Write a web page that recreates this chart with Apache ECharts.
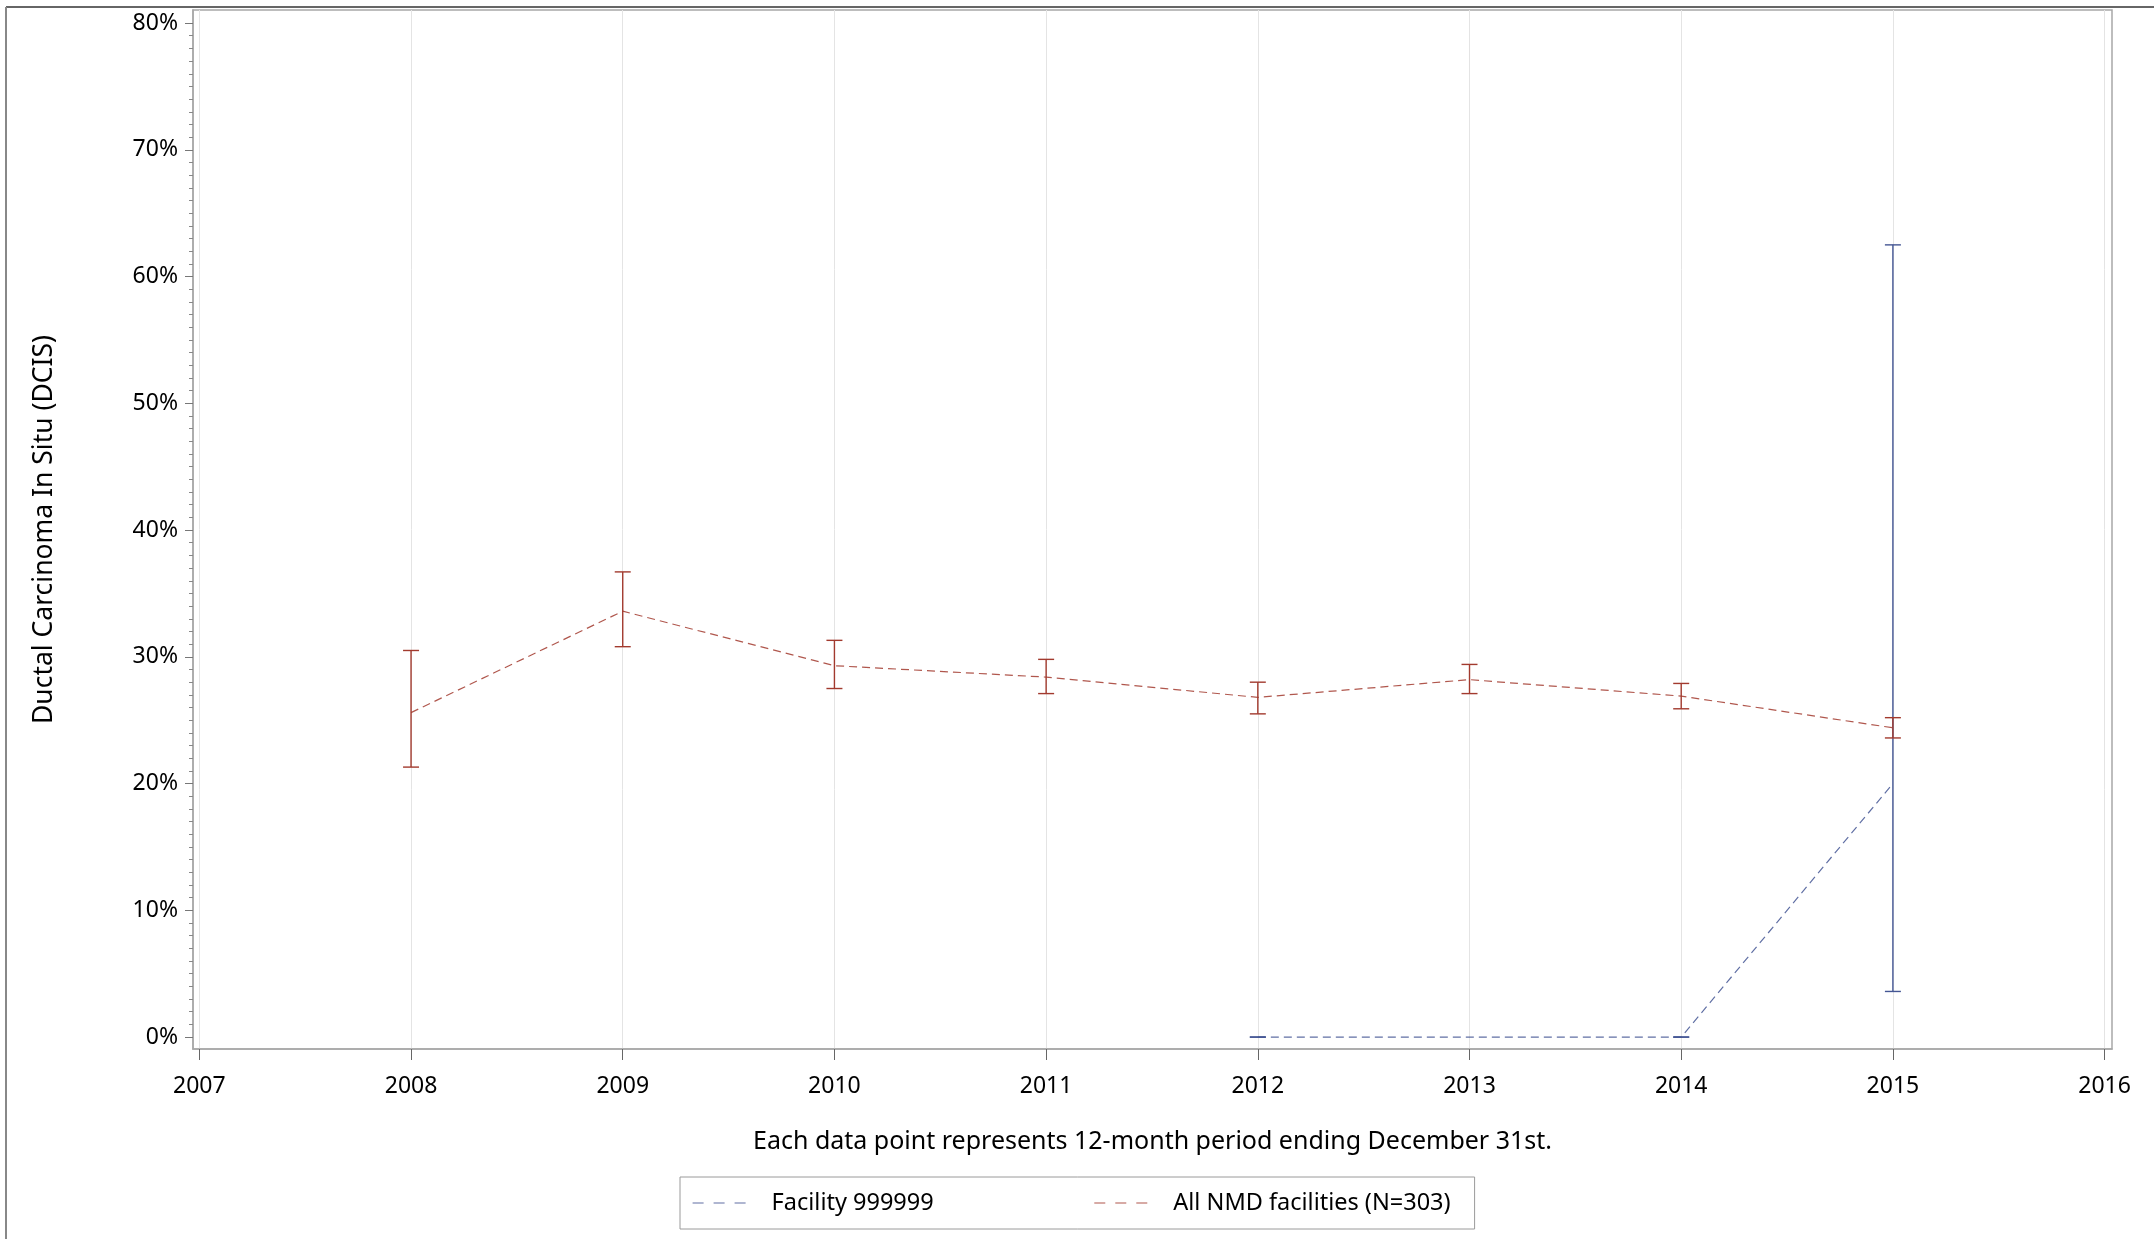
<!DOCTYPE html>
<html>
<head>
<meta charset="utf-8">
<script src="https://cdn.jsdelivr.net/npm/echarts@6/dist/echarts.min.js"></script>
<style>
html,body{margin:0;padding:0;background:#fff;}
#chart{width:2154px;height:1239px;}
</style>
</head>
<body>
<div id="chart"></div>
<script>
// ---- data ----
var xTickYears = [2007, 2008, 2009, 2010, 2011, 2012, 2013, 2014, 2015, 2016];
var yTickValues = [0, 10, 20, 30, 40, 50, 60, 70, 80];
var nmdYears = [2008, 2009, 2010, 2011, 2012, 2013, 2014, 2015];
var nmdRate  = [25.6, 33.6, 29.3, 28.4, 26.8, 28.2, 26.9, 24.4];
var nmdLower = [21.3, 30.8, 27.5, 27.1, 25.5, 27.1, 25.9, 23.6];
var nmdUpper = [30.5, 36.7, 31.3, 29.8, 28.0, 29.4, 27.9, 25.2];
var facYears = [2012, 2013, 2014, 2015];
var facRate  = [0, 0, 0, 20];
var facLower = [0, null, 0, 3.6];
var facUpper = [0, null, 0, 62.5];
var facName = 'Facility 999999';
var nmdName = 'All NMD facilities (N=303)';
var xTitle = 'Each data point represents 12-month period ending December 31st.';
var yTitle = 'Ductal Carcinoma In Situ (DCIS)';

var RED = '#A23A2E', BLUE = '#445694';
var FONT = 'Noto Sans';

var minorVals = [];
for (var v = 0; v <= 80; v++) { if (v % 10 !== 0) minorVals.push(v); }

function pairs(xs, ys) { return xs.map(function (x, i) { return [x, ys[i]]; }); }
function ciData(xs, lo, hi) {
  var out = [];
  xs.forEach(function (x, i) { if (lo[i] != null) out.push([x, lo[i], hi[i]]); });
  return out;
}
function errRender(color) {
  return function (params, api) {
    var x = api.value(0);
    var lo = api.coord([x, api.value(1)]);
    var hi = api.coord([x, api.value(2)]);
    var w = 8;
    var st = { stroke: color, lineWidth: 1.4 };
    return {
      type: 'group',
      children: [
        { type: 'line', shape: { x1: lo[0], y1: lo[1], x2: hi[0], y2: hi[1] }, style: st },
        { type: 'line', shape: { x1: lo[0] - w, y1: lo[1], x2: lo[0] + w, y2: lo[1] }, style: st },
        { type: 'line', shape: { x1: hi[0] - w, y1: hi[1], x2: hi[0] + w, y2: hi[1] }, style: st }
      ]
    };
  };
}

var chart = echarts.init(document.getElementById('chart'), null, { renderer: 'canvas' });
var option = {
  backgroundColor: '#fff',
  animation: false,
  textStyle: { fontFamily: FONT },
  grid: {
    left: 193, right: 42, top: 10, bottom: 190,
    show: true, borderColor: '#a8a8a8', borderWidth: 1.5, backgroundColor: 'transparent'
  },
  xAxis: {
    type: 'value', min: 2006.970, max: 2016.035,
    name: xTitle, nameLocation: 'middle', nameGap: 80,
    nameTextStyle: { fontSize: 25, color: '#000', fontFamily: FONT },
    axisLine: { show: true, onZero: false, lineStyle: { color: '#a8a8a8', width: 1.5 } },
    axisTick: { show: true, customValues: xTickYears, length: 11, lineStyle: { color: '#666', width: 1 } },
    axisLabel: { customValues: xTickYears, margin: 26, fontSize: 23, color: '#000', fontFamily: FONT,
      formatter: function (v) { return String(Math.round(v)); } },
    splitLine: { show: true, lineStyle: { color: '#e4e4e4', width: 1 } }
  },
  yAxis: [{
    type: 'value', min: -0.94, max: 81.03, position: 'left',
    name: yTitle, nameLocation: 'middle', nameGap: 135, nameRotate: 90,
    nameTextStyle: { fontSize: 26.5, color: '#000', fontFamily: FONT },
    axisLine: { show: true, onZero: false, lineStyle: { color: '#a8a8a8', width: 1.5 } },
    axisTick: { show: true, customValues: yTickValues, length: 8, lineStyle: { color: '#777', width: 1 } },
    axisLabel: { customValues: yTickValues, margin: 15, fontSize: 23, color: '#000', fontFamily: FONT,
      formatter: function (v) { return Math.round(v) + '%'; } },
    splitLine: { show: false }
  }, {
    type: 'value', min: -0.94, max: 81.03, position: 'left',
    axisLine: { show: false, onZero: false },
    axisTick: { show: true, customValues: minorVals, length: 4, lineStyle: { color: '#888', width: 1 } },
    axisLabel: { show: false },
    splitLine: { show: false }
  }],
  legend: {
    left: 680, top: 1177,
    data: [facName, nmdName],
    orient: 'horizontal',
    itemWidth: 57, itemHeight: 14, itemGap: 160,
    padding: [14, 24, 14, 12],
    borderColor: '#9a9a9a', borderWidth: 1,
    itemStyle: { opacity: 0, borderWidth: 0 },
    lineStyle: { type: [11, 10], width: 1.2 },
    textStyle: { fontSize: 23.5, color: '#000', fontFamily: FONT, padding: [0, 0, 0, 17] },
    selectedMode: false
  },
  graphic: [
    { type: 'line', shape: { x1: 6, y1: 7, x2: 2154, y2: 7 }, style: { stroke: '#333', lineWidth: 1.5 } },
    { type: 'line', shape: { x1: 6, y1: 7, x2: 6, y2: 1239 }, style: { stroke: '#888', lineWidth: 2 } }
  ],
  series: [
    {
      name: facName, type: 'line', data: pairs(facYears, facRate), yAxisIndex: 0,
      symbol: 'none', lineStyle: { color: BLUE, width: 1.2, type: [8, 5], opacity: 0.85 },
      itemStyle: { color: BLUE }, z: 3
    },
    {
      name: nmdName, type: 'line', data: pairs(nmdYears, nmdRate), yAxisIndex: 0,
      symbol: 'none', lineStyle: { color: RED, width: 1.2, type: [8, 5], opacity: 0.85 },
      itemStyle: { color: RED }, z: 3
    },
    {
      name: 'facCI', type: 'custom', data: ciData(facYears, facLower, facUpper), yAxisIndex: 0,
      renderItem: errRender(BLUE), encode: { x: 0, y: [1, 2] }, z: 4
    },
    {
      name: 'nmdCI', type: 'custom', data: ciData(nmdYears, nmdLower, nmdUpper), yAxisIndex: 0,
      renderItem: errRender(RED), encode: { x: 0, y: [1, 2] }, z: 4
    }
  ]
};
chart.setOption(option);
</script>
</body>
</html>
